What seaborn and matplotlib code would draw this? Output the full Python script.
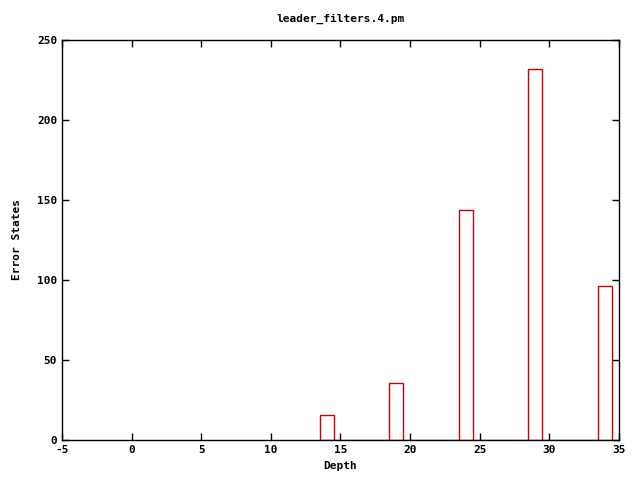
import matplotlib
matplotlib.use("Agg")
import matplotlib.pyplot as plt
import seaborn as sns
import pandas as pd

# Data
depth = [14, 19, 24, 29, 34]
error_states = [16, 36, 144, 232, 96]

df = pd.DataFrame({"Depth": depth, "Error States": error_states})

sns.set_style("ticks")
plt.rcParams["font.family"] = ["DejaVu Sans Mono"]
plt.rcParams["font.weight"] = "bold"
plt.rcParams["font.size"] = 8
plt.rcParams["axes.unicode_minus"] = False
plt.rcParams["text.color"] = "black"
plt.rcParams["xtick.color"] = "black"
plt.rcParams["ytick.color"] = "black"
plt.rcParams["axes.labelcolor"] = "black"

fig = plt.figure(figsize=(6.4, 4.8), dpi=100)
ax = fig.add_axes([0.097, 0.083, 0.870, 0.834])

sns.histplot(data=df, x="Depth", weights="Error States", discrete=True,
             fill=False, color="#cc0000", linewidth=1, ax=ax)

ax.set_xlim(-5, 35)
ax.set_ylim(0, 250)
ax.set_xticks(range(-5, 36, 5))
ax.set_yticks(range(0, 251, 50))
ax.tick_params(direction="in", top=True, right=True, length=5, width=1,
               labelsize=8)
for s in ax.spines.values():
    s.set_linewidth(1)
    s.set_color("black")

ax.set_xlabel("Depth", fontsize=8, fontweight="bold")
ax.set_ylabel("Error States", fontsize=8, fontweight="bold", labelpad=11)
ax.set_title("leader_filters.4.pm", fontsize=8, fontweight="bold", pad=13)

fig.savefig("out.png", dpi=100)
